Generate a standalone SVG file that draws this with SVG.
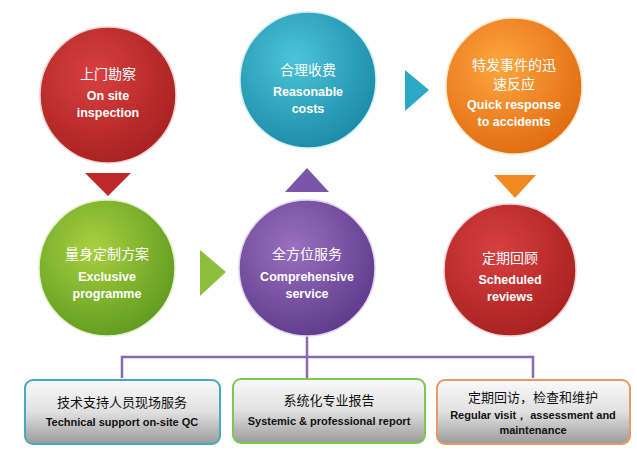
<svg xmlns="http://www.w3.org/2000/svg" width="637" height="454" viewBox="0 0 637 454">
<style>
.cn{font-family:"Noto Sans CJK SC",sans-serif;font-size:14px;fill:#fff;text-anchor:middle}
.en{font-family:"Liberation Sans",sans-serif;font-weight:bold;font-size:12.5px;fill:#fff;text-anchor:middle}
.bc{font-family:"Noto Sans CJK SC",serif;font-size:13px;fill:#111;text-anchor:middle}
.be{font-family:"Liberation Sans",sans-serif;font-weight:bold;font-size:11px;fill:#111;text-anchor:middle}
.box{stroke-width:2}
</style>
<defs>
<radialGradient id="gr" cx="0.4" cy="0.35" r="0.7"><stop offset="0" stop-color="#d84040"/><stop offset="1" stop-color="#a82020"/></radialGradient>
<radialGradient id="gt" cx="0.4" cy="0.35" r="0.7"><stop offset="0" stop-color="#4cc4d8"/><stop offset="1" stop-color="#1a8aa6"/></radialGradient>
<radialGradient id="go" cx="0.4" cy="0.35" r="0.7"><stop offset="0" stop-color="#ffa640"/><stop offset="1" stop-color="#e06a10"/></radialGradient>
<radialGradient id="gg" cx="0.4" cy="0.35" r="0.7"><stop offset="0" stop-color="#a8d040"/><stop offset="1" stop-color="#5e9a20"/></radialGradient>
<radialGradient id="gp" cx="0.4" cy="0.35" r="0.7"><stop offset="0" stop-color="#9a70c0"/><stop offset="1" stop-color="#5e3a8a"/></radialGradient>
<linearGradient id="gb" x1="0" y1="0" x2="0" y2="1"><stop offset="0" stop-color="#fafafa"/><stop offset="0.5" stop-color="#e0e0e0"/><stop offset="1" stop-color="#9a9a9a"/></linearGradient>
</defs>
<g id="connectors" fill="none" stroke="#8a68b8" stroke-width="2.5">
<path d="M307 336V357M122 378V357H533V378M307 357V378"/>
</g>
<g id="arrows">
<polygon points="85,173 131,173 108,196" fill="#c0282c"/>
<polygon points="200,250 226,272 200,296" fill="#8cc03c"/>
<polygon points="285,192 329,192 307,168" fill="#7a56a8"/>
<polygon points="405,70 429,90 405,111" fill="#2aa8c4"/>
<polygon points="494,175 536,175 515,198" fill="#f08a20"/>
</g>
<g id="n1"><circle cx="108" cy="95" r="68" fill="url(#gr)" stroke="#f0d0d0" stroke-width="1.5"/>
<text class="cn" x="108" y="79">上门勘察</text><text class="en" x="108" y="100">On site</text><text class="en" x="108" y="117">inspection</text></g>
<g id="n2"><circle cx="308" cy="80" r="68" fill="url(#gt)" stroke="#d0eef4" stroke-width="1.5"/>
<text class="cn" x="308" y="75">合理收费</text><text class="en" x="308" y="96">Reasonable</text><text class="en" x="308" y="113">costs</text></g>
<g id="n3"><circle cx="514" cy="86" r="68" fill="url(#go)" stroke="#ffe4c8" stroke-width="1.5"/>
<text class="cn" x="514" y="70">特发事件的迅</text><text class="cn" x="514" y="89">速反应</text><text class="en" x="514" y="109">Quick response</text><text class="en" x="514" y="126">to accidents</text></g>
<g id="n4"><circle cx="107" cy="268" r="68" fill="url(#gg)" stroke="#e4f2cc" stroke-width="1.5"/>
<text class="cn" x="107" y="259">量身定制方案</text><text class="en" x="107" y="281">Exclusive</text><text class="en" x="107" y="298">programme</text></g>
<g id="n5"><circle cx="307" cy="268" r="68" fill="url(#gp)" stroke="#e0d4ee" stroke-width="1.5"/>
<text class="cn" x="307" y="259">全方位服务</text><text class="en" x="307" y="281">Comprehensive</text><text class="en" x="307" y="298">service</text></g>
<g id="n6"><circle cx="510" cy="270" r="66" fill="url(#gr)" stroke="#f0d0d0" stroke-width="1.5"/>
<text class="cn" x="510" y="263">定期回顾</text><text class="en" x="510" y="284">Scheduled</text><text class="en" x="510" y="301">reviews</text></g>
<g id="b1"><rect class="box" x="25" y="380" width="195" height="64" rx="8" fill="url(#gb)" stroke="#4aa8c0"/>
<text class="bc" x="122" y="407">技术支持人员现场服务</text><text class="be" x="122" y="426">Technical support on-site QC</text></g>
<g id="b2"><rect class="box" x="233" y="379" width="192" height="64" rx="8" fill="url(#gb)" stroke="#7cc850"/>
<text class="bc" x="329" y="405">系统化专业报告</text><text class="be" x="329" y="425">Systemic &amp; professional report</text></g>
<g id="b3"><rect class="box" x="437" y="380" width="193" height="64" rx="8" fill="url(#gb)" stroke="#e89a60"/>
<text class="bc" x="533" y="402">定期回访，检查和维护</text><text class="be" x="533" y="419">Regular visit， assessment and</text><text class="be" x="533" y="434">maintenance</text></g>
</svg>
